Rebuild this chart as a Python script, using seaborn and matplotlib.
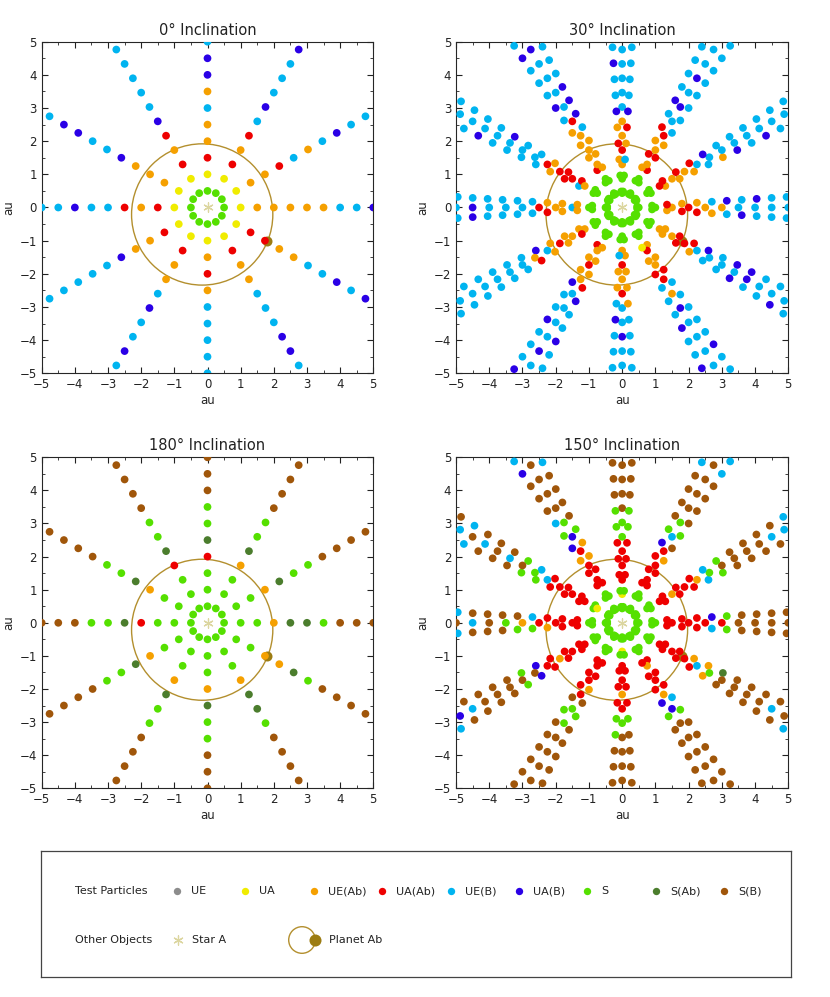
import numpy as np
import pandas as pd
import matplotlib
matplotlib.use("Agg")
import matplotlib.pyplot as plt
from matplotlib.patches import Circle
from matplotlib.ticker import MultipleLocator
import seaborn as sns


##################################################
# Data
##################################################

# test particle grid: 12 spokes, radii in au
RADII = [0.5, 1.0, 1.5, 2.0, 2.5, 3.0, 3.5, 4.0, 4.5, 5.0, 5.5, 6.0, 6.5]
SPOKES = [0, 30, 60, 90, 120, 150, 180, 210, 240, 270, 300, 330]
NODES = [0, 120, 240]  # ascending nodes used for the tilted runs
TILT_DEG = 30

CLASS_CODES = {
    "u": "UE", "y": "UA", "o": "UE(Ab)", "r": "UA(Ab)", "c": "UE(B)",
    "b": "UA(B)", "g": "S", "d": "S(Ab)", "n": "S(B)",
}
CLASS_ORDER = ["UE", "UA", "UE(Ab)", "UA(Ab)", "UE(B)", "UA(B)", "S", "S(Ab)", "S(B)"]
CLASS_COLORS = {
    "UE": "#8c8c8c", "UA": "#f0ec00", "UE(Ab)": "#f5a000", "UA(Ab)": "#ee0000",
    "UE(B)": "#00b4f0", "UA(B)": "#2a00e6", "S": "#55e000", "S(Ab)": "#4b7d2d",
    "S(B)": "#a0560a",
}

# one class code per radius along each spoke (coplanar runs)
FLAT_0 = [
    "gyoooooccb", "gyoorcocbcc", "gyrorcbcccb", "gyroocobbc",
    "gyrorbccccc", "gyooobccbbc", "gyrorccbcc", "gyroobccccc",
    "gyroocbccbc", "gyoroccccc", "gyroocccbbc", "gyrrooccbcb",
]
FLAT_180 = [
    "gggoddgnnn", "gggodggnnnn", "gggodggnnnn", "gggrdggnnn",
    "gggrdggnnnn", "gggodggnnnn", "gggrdggnnn", "gggodggnnnn",
    "gggodggnnnn", "gggodggnnn", "gggoddgnnnn", "gggoodgnnnn",
]

# tilted runs: centre / counter-clockwise / clockwise member of each triplet
TILT30_C = [
    "ggorooccccccc", "ggroocccccccc", "ggoorcbcbcccc", "ggorooccccccc",
    "ggooorccccbcc", "ggorrrccccccc", "ggcorcccbcccc", "ggoorcocccccc",
    "ggoroccccbccc", "ggororccbcccc", "ggrorobcccccc", "ggoorccccbccc",
]
TILT30_P = [
    "ggroocbcbcccc", "ggrrrbccccccc", "ggororcbccccc", "ggorobccbcccc",
    "ggrooocbcccbc", "ggcroccccbccc", "ggoorccccbccc", "ggroorccccccc",
    "ggooorbccbccc", "ggooooccccccc", "ggoorcccccbcc", "ggorrbcbbcccc",
]
TILT30_M = [
    "ggorrocbccccc", "ggooocobcbccc", "ggrrocccccccc", "ggcorbccccccc",
    "ggooocbbbcccc", "ggrroccbccccc", "ggooocccccccc", "ggooobccccccc",
    "ggroobccbcccb", "ggcoocbcccccc", "ggyorcccbccbc", "ggoroccbccbcc",
]
TILT150_C = [
    "ggrrrrnnnnnnn", "ggrorognnnncc", "ggrrrcgnnnnnc", "gyrrrggnnnnnn",
    "ggrrrbgnnnnnn", "gyrrrcgncncnc", "ggrrrogncnnnn", "ggrrornnnnncb",
    "ggrrrggnnnnnn", "gyrrorgnnnnnn", "ggorobnnnnnnn", "ggrrrcgnnnncn",
]
TILT150_P = [
    "ggrrrbgnnnnnn", "ggrrrcgnnnncc", "ggrrrbgnnnncc", "ggrrrggnnnnnn",
    "ggrrobgcnnnbc", "ggrrrggnnncnn", "ggrroggnnncnn", "ggrrrbgnnnncn",
    "ggrrongnnnnnn", "ggrrrgnnnnnnn", "ggrrrcgnnnnnn", "ggrroodnnnnnn",
]
TILT150_M = [
    "ggrrrcgnnnnnn", "ggrrrcgnnnnnn", "ggrrongnnnncc", "ggrrrggnnnnnn",
    "ggrroognnnncc", "ggrrrcgnnncnn", "ggrrrcnnnncnn", "ggrrrbgnnnnnn",
    "ggrrrngnnnnnn", "ggrrrggnnnnnn", "ggrrrbgnnnnnn", "ggrrronnnnncn",
]

STAR_A = (0.0, 0.0)
PLANET_AB = (1.8, -1.0)
ORBIT_CENTER = (-0.16, -0.21)
ORBIT_RADIUS = 2.13

TITLES = ["0° Inclination", "30° Inclination", "180° Inclination", "150° Inclination"]


##################################################
# Build point tables
##################################################

def flat_points(codes):
    rows = []
    for theta, code in zip(SPOKES, codes):
        t = np.radians(theta)
        for r, c in zip(RADII, code):
            rows.append((r * np.cos(t), r * np.sin(t), CLASS_CODES[c]))
    return pd.DataFrame(rows, columns=["x", "y", "cls"])


def tilted_points(center, ccw, cw):
    ci = np.cos(np.radians(TILT_DEG))
    rows = []
    for k, theta in enumerate(SPOKES):
        slots = {"c": center[k], "p": ccw[k], "m": cw[k]}
        for node in NODES:
            u = np.radians(theta - node)
            w = np.radians(node)
            for i, r in enumerate(RADII):
                xo, yo = r * np.cos(u), r * np.sin(u) * ci
                x = xo * np.cos(w) - yo * np.sin(w)
                y = xo * np.sin(w) + yo * np.cos(w)
                d = (np.degrees(np.arctan2(y, x)) - theta + 180) % 360 - 180
                slot = "c" if abs(d) < 1 else ("p" if d > 0 else "m")
                code = slots[slot]
                if i < len(code):
                    rows.append((x, y, CLASS_CODES[code[i]]))
    return pd.DataFrame(rows, columns=["x", "y", "cls"])


panels = [
    flat_points(FLAT_0),
    tilted_points(TILT30_C, TILT30_P, TILT30_M),
    flat_points(FLAT_180),
    tilted_points(TILT150_C, TILT150_P, TILT150_M),
]


##################################################
# Style
##################################################

sns.set_style("ticks")
plt.rcParams["font.family"] = ["DejaVu Sans"]
plt.rcParams.update({
    "xtick.direction": "in", "ytick.direction": "in",
    "xtick.top": True, "ytick.right": True,
    "xtick.major.size": 4.5, "ytick.major.size": 4.5,
    "xtick.minor.size": 2.5, "ytick.minor.size": 2.5,
    "xtick.labelsize": 8.5, "ytick.labelsize": 8.5,
    "axes.linewidth": 0.8, "text.color": "#222222",
    "xtick.color": "#222222", "ytick.color": "#222222",
})

W, H = 830, 997
fig = plt.figure(figsize=(W / 100, H / 100), dpi=100)

# panel boxes in pixels: left, top, width, height
boxes = [(41.7, 41.7, 331.6, 331.6), (456.0, 41.7, 332.3, 331.6),
         (41.7, 457.3, 331.6, 331.0), (456.0, 457.3, 332.3, 331.0)]

for df, title, (left, top, w, h) in zip(panels, TITLES, boxes):
    ax = fig.add_axes([left / W, (H - top - h) / H, w / W, h / H])
    ax.add_patch(Circle(ORBIT_CENTER, ORBIT_RADIUS, fill=False,
                        ec="#b38f2e", lw=1.0, zorder=2))
    ax.scatter(*PLANET_AB, s=52, color="#9c7c12", zorder=2.5, linewidths=0)
    sns.scatterplot(data=df, x="x", y="y", hue="cls", hue_order=CLASS_ORDER,
                    palette=CLASS_COLORS, s=31, linewidth=0, legend=False,
                    ax=ax, zorder=3)
    ax.scatter(*STAR_A, marker=(6, 2, 0), s=45, color="#dcd6a0",
               linewidths=0.9, zorder=4)
    ax.set_xlim(-5, 5)
    ax.set_ylim(-5, 5)
    ax.xaxis.set_major_locator(MultipleLocator(1))
    ax.yaxis.set_major_locator(MultipleLocator(1))
    ax.xaxis.set_minor_locator(MultipleLocator(0.5))
    ax.yaxis.set_minor_locator(MultipleLocator(0.5))
    ax.tick_params(which="both", top=True, right=True)
    ax.set_xlabel("au", fontsize=8.5, labelpad=2)
    ax.set_ylabel("au", fontsize=8.5, labelpad=3)
    ax.set_title(title, fontsize=10.5, pad=5)


##################################################
# Legend box
##################################################

lx, ltop, lw_, lh = 41, 851, 750, 126
lax = fig.add_axes([lx / W, (H - ltop - lh) / H, lw_ / W, lh / H])
lax.set_xlim(0, lw_)
lax.set_ylim(lh, 0)
lax.set_xticks([])
lax.set_yticks([])
for sp in lax.spines.values():
    sp.set_color("#444444")
    sp.set_linewidth(0.9)

row1, row2 = 40, 89
lax.text(34, row1, "Test Particles", fontsize=8, va="center")
for k, name in enumerate(CLASS_ORDER):
    xd = 136 + 68.4 * k
    lax.scatter(xd, row1, s=28, color=CLASS_COLORS[name], linewidths=0)
    lax.text(xd + 14, row1, name, fontsize=8, va="center")

lax.text(34, row2, "Other Objects", fontsize=8, va="center")
lax.scatter(137, row2, marker=(6, 2, 0), s=45, color="#dcd6a0", linewidths=0.9)
lax.text(151, row2, "Star A", fontsize=8, va="center")
lax.add_patch(Circle((261, row2), 13.3, fill=False, ec="#b38f2e", lw=1.0))
lax.scatter(273.5, row2, s=75, color="#9c7c12", linewidths=0, zorder=3)
lax.text(288, row2, "Planet Ab", fontsize=8, va="center")

fig.savefig("out.png", dpi=100)
